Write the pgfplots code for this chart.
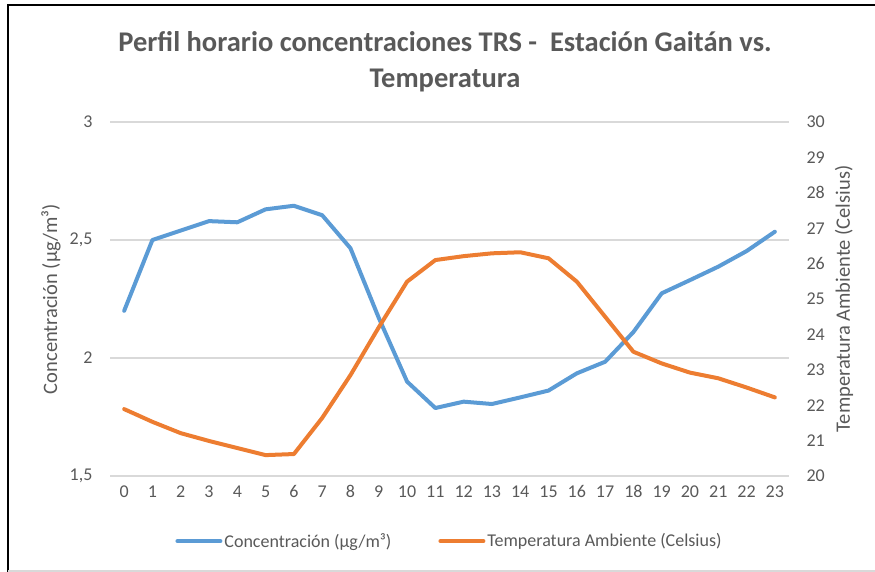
\documentclass[border=0pt]{standalone}
\usepackage{pgfplots}
\pgfplotsset{compat=1.18}
\usepackage{fontspec}
\setmainfont{Carlito}
\definecolor{txt}{HTML}{595959}
\definecolor{grd}{HTML}{D9D9D9}
\definecolor{cblue}{HTML}{5B9BD5}
\definecolor{corange}{HTML}{ED7D31}
\begin{document}
\begin{tikzpicture}
\path[use as bounding box] (0pt,0pt) rectangle (875pt,572pt);
\draw[black,line width=2.5pt] (8pt,0pt) -- (8pt,567pt) -- (875pt,567pt);
\draw[grd,line width=1.5pt] (8pt,1pt) -- (875pt,1pt);
\node[anchor=base,font=\fontsize{28.5}{36}\selectfont\bfseries,text=txt,align=center] at (445pt,484pt) {Perfil horario concentraciones TRS -\ \ Estación Gaitán vs.\\Temperatura};
\node[rotate=90,font=\fontsize{20.5}{24}\selectfont,text=txt] at (51pt,273pt) {Concentración (µg/m³)};
\node[rotate=90,font=\fontsize{20.5}{24}\selectfont,text=txt] at (844pt,273pt) {Temperatura Ambiente (Celsius)};
\begin{axis}[
  at={(110pt,96pt)}, anchor=south west,
  scale only axis, width=679pt, height=354pt,
  xmin=-0.5, xmax=23.5, ymin=1.5, ymax=3,
  xtick={0,...,23}, ytick={1.5,2,2.5,3},
  axis x line*=bottom, axis y line*=left,
  axis line style={draw=none},
  major tick length=0pt,
  ymajorgrids, grid style={grd,line width=1.3pt},
  /pgf/number format/use comma,
  /pgf/number format/assume math mode=true,
  ticklabel style={font=\fontsize{18}{22}\selectfont,text=txt},
  yticklabel style={xshift=-14pt},
  xticklabel style={yshift=-6pt},
  legend style={at={(0.5,-0.184)},anchor=center,draw=none,fill=none,
    legend columns=2,font=\fontsize{18}{22}\selectfont,text=txt,
    /tikz/every even column/.append style={column sep=45pt},
    inner sep=0pt},
  legend image code/.code={\draw[#1] (0pt,0pt) -- (43pt,0pt);},
  clip=false,
]
\addplot[cblue,line width=4pt,line join=round,line cap=round] coordinates {
(0,2.20) (1,2.50) (2,2.54) (3,2.58) (4,2.575) (5,2.63) (6,2.645) (7,2.605)
(8,2.465) (9,2.17) (10,1.90) (11,1.788) (12,1.815) (13,1.805) (14,1.833)
(15,1.862) (16,1.935) (17,1.984) (18,2.11) (19,2.274) (20,2.33) (21,2.387)
(22,2.453) (23,2.535)};
\addlegendentry{Concentración (µg/m³)}
\addlegendimage{corange,line width=4pt,line cap=round}
\addlegendentry{Temperatura Ambiente (Celsius)}
\end{axis}
\begin{axis}[
  at={(110pt,96pt)}, anchor=south west,
  scale only axis, width=679pt, height=354pt,
  xmin=-0.5, xmax=23.5, ymin=20, ymax=30,
  ytick={20,...,30},
  axis x line=none, axis y line*=right,
  axis line style={draw=none},
  major tick length=0pt,
  /pgf/number format/assume math mode=true,
  ticklabel style={font=\fontsize{18}{22}\selectfont,text=txt},
  yticklabel style={xshift=14pt},
  clip=false,
]
\addplot[corange,line width=4pt,line join=round,line cap=round] coordinates {
(0,21.89) (1,21.53) (2,21.21) (3,20.99) (4,20.79) (5,20.59) (6,20.62) (7,21.64)
(8,22.85) (9,24.2) (10,25.49) (11,26.10) (12,26.21) (13,26.29) (14,26.32)
(15,26.15) (16,25.49) (17,24.5) (18,23.51) (19,23.18) (20,22.92) (21,22.76)
(22,22.50) (23,22.22)};
\end{axis}
\end{tikzpicture}
\end{document}
